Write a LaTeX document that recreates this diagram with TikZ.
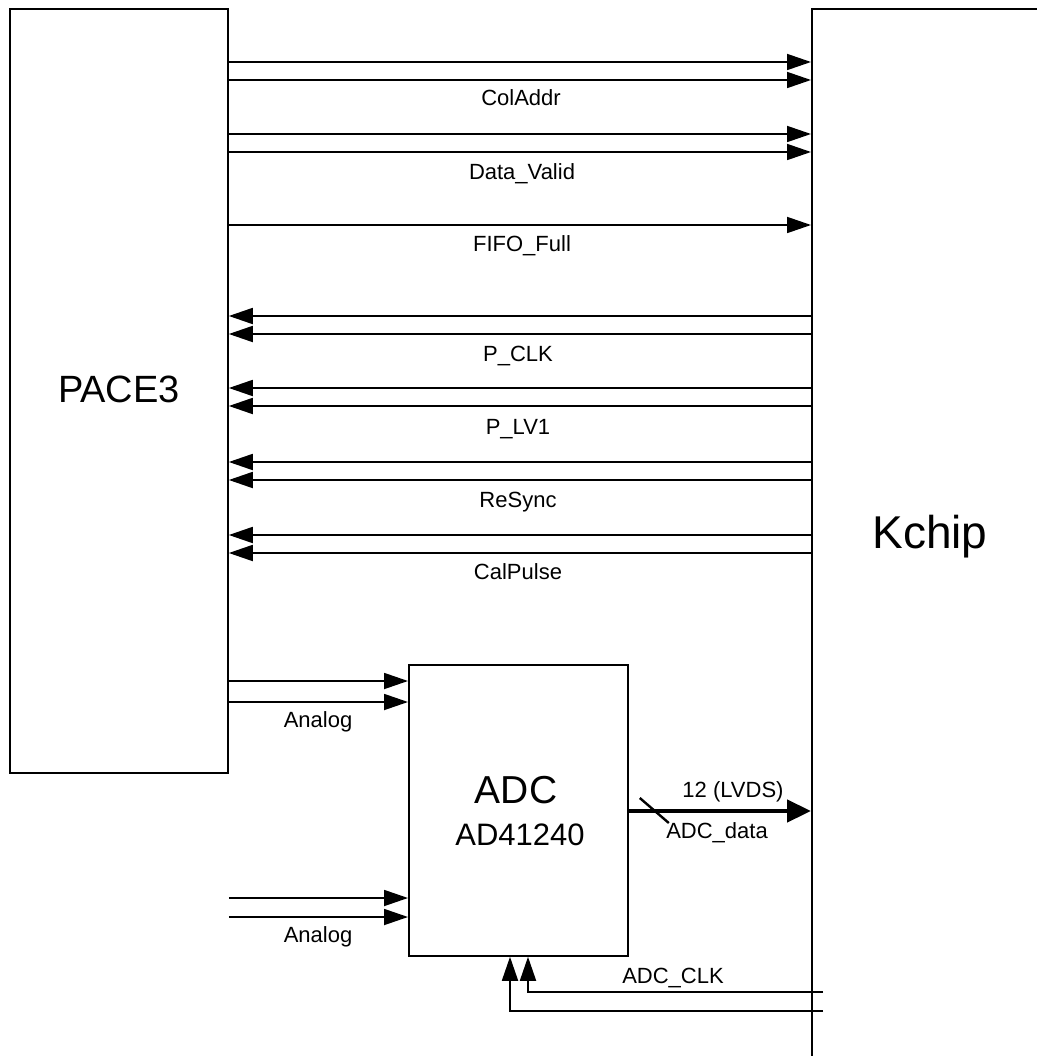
\documentclass[tikz,border=0pt]{standalone}
\usepackage{fontspec}
\setmainfont{Liberation Sans}
\usetikzlibrary{arrows.meta,calc}
\begin{document}
\begin{tikzpicture}[x=1pt,y=-1pt,
  blk/.style={draw, line width=1.8pt, inner sep=0pt, anchor=north west},
  sig/.style={line width=1.8pt, -{Triangle[length=24pt,width=16pt]}},
  bus/.style={line width=4.5pt, -{Triangle[length=24pt,width=22pt]}},
  lbl/.style={font=\fontsize{22}{26}\selectfont, inner sep=0pt, anchor=base},
  big/.style={inner sep=0pt, anchor=base}]
\useasboundingbox (0,0) rectangle (1036,1056);
% blocks
\node[blk, minimum width=218pt, minimum height=764pt] (pace) at (9,8) {};
\node[blk, minimum width=320pt, minimum height=1120pt] (kchip) at (811,8) {};
\node[blk, minimum width=219pt, minimum height=291pt] (adc) at (408,664) {};
\node[big, font=\fontsize{38}{42}\selectfont] (pacelbl) at (119,402) {PACE3};
\node[big, font=\fontsize{46}{50}\selectfont] (kchiplbl) at (930,548) {Kchip};
\node[big, font=\fontsize{39}{42}\selectfont] (adclbl) at (516,803) {ADC};
\node[big, font=\fontsize{31}{34}\selectfont] (adcpart) at (520,845) {AD41240};
% PACE3 -> Kchip
\foreach \yy in {62,80,134,152,225}{
  \coordinate (ly) at (0,\yy);
  \draw[sig] (pace.east |- ly) -- (kchip.west |- ly);
}
% Kchip -> PACE3
\foreach \yy in {316,334,388,406,462,480,535,553}{
  \coordinate (ly) at (0,\yy);
  \draw[sig] (kchip.west |- ly) -- (pace.east |- ly);
}
% Analog inputs
\foreach \yy in {681,702,898,917}{
  \coordinate (ly) at (0,\yy);
  \draw[sig] (pace.east |- ly) -- (adc.west |- ly);
}
% ADC data bus
\coordinate (busy) at (0,811);
\draw[bus] (adc.east |- busy) -- (kchip.west |- busy);
\draw[line width=2.4pt] ($(adc.east |- busy)+(11,-13)$) -- ($(adc.east |- busy)+(40,12)$);
% ADC clock
\coordinate (clkA) at (823,992);
\coordinate (clkB) at (823,1011);
\draw[sig] (clkA) -| ($(adc.south west)+(120,0)$);
\draw[sig] (clkB) -| ($(adc.south west)+(102,0)$);
% labels
\node[lbl] (l1) at (521,106) {ColAddr};
\node[lbl] (l2) at (522,180) {Data\_Valid};
\node[lbl] (l3) at (522,252) {FIFO\_Full};
\node[lbl] (l4) at (518,361) {P\_CLK};
\node[lbl] (l5) at (518,434) {P\_LV1};
\node[lbl] (l6) at (518,507) {ReSync};
\node[lbl] (l7) at (518,579) {CalPulse};
\node[lbl] (l8) at (318,727) {Analog};
\node[lbl] (l9) at (318,942) {Analog};
\node[lbl] (l10) at (733,797) {12 (LVDS)};
\node[lbl] (l11) at (717,838) {ADC\_data};
\node[lbl] (l12) at (673,983) {ADC\_CLK};
\end{tikzpicture}
\end{document}
